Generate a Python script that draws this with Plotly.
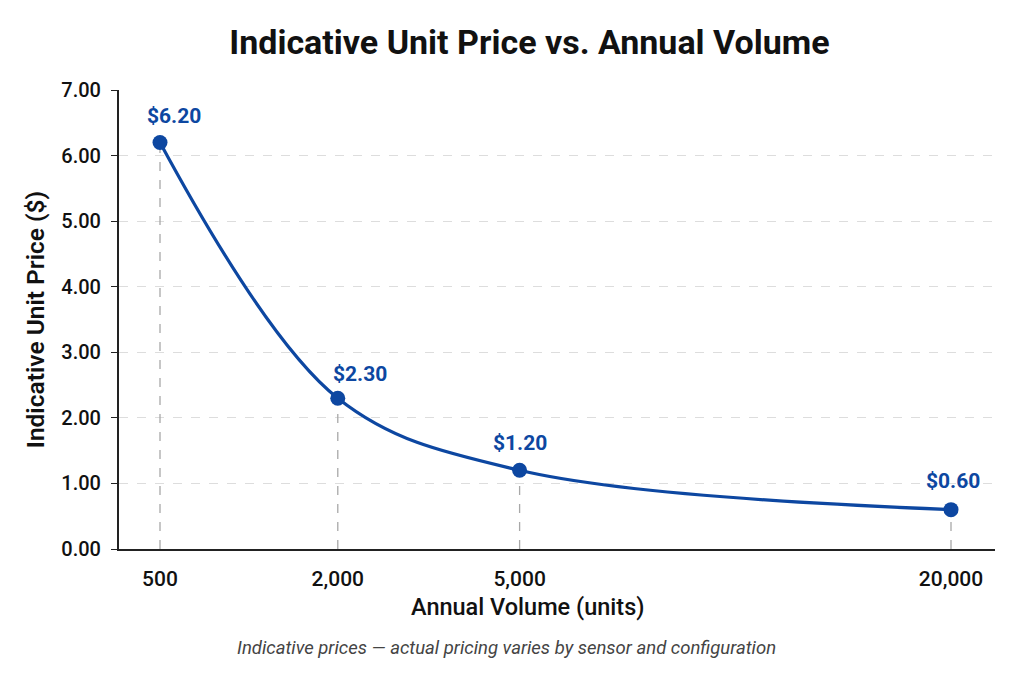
import plotly.graph_objects as go

volumes = [500, 2000, 5000, 20000]
volume_labels = ["500", "2,000", "5,000", "20,000"]
prices = [6.20, 2.30, 1.20, 0.60]
price_labels = ["$6.20", "$2.30", "$1.20", "$0.60"]
y_ticks = [0, 1, 2, 3, 4, 5, 6, 7]
y_tick_labels = ["0.00", "1.00", "2.00", "3.00", "4.00", "5.00", "6.00", "7.00"]

# compressive power scale for the volume axis
P = 0.385
def sx(v):
    return v ** P

xs = [sx(v) for v in volumes]
BLUE = "#0d47a1"
FONT = "Roboto"

fig = go.Figure()

# drop lines
for x, y in zip(xs, prices):
    fig.add_trace(go.Scatter(x=[x, x], y=[0, y], mode="lines",
                             line=dict(color="#a8a8a8", width=1.3, dash="dash"),
                             hoverinfo="skip", showlegend=False))

fig.add_trace(go.Scatter(x=xs, y=prices, mode="lines+markers",
                         line=dict(color=BLUE, width=3.2, shape="spline", smoothing=1.0),
                         marker=dict(color=BLUE, size=15),
                         showlegend=False))

label_xshift = [14, 22, 0, 2]
label_yshift = [26, 24, 27, 29]
for x, y, t, dx, dy in zip(xs, prices, price_labels, label_xshift, label_yshift):
    fig.add_annotation(x=x, y=y, text=t, showarrow=False, xshift=dx, yshift=dy,
                       font=dict(family=FONT, size=21, color=BLUE, weight="bold"))

# x-axis title
fig.add_annotation(text="Annual Volume (units)", xref="paper", yref="paper",
                   x=0.466, y=-0.1264, xanchor="center", yanchor="middle", showarrow=False,
                   font=dict(family=FONT, size=23.5, color="#111111", weight=500))

fig.add_annotation(text="Indicative prices \u2014 actual pricing varies by sensor and configuration",
                   xref="paper", yref="paper", x=0.4418, y=-0.2157, xanchor="center",
                   yanchor="middle", showarrow=False,
                   font=dict(family=FONT, size=18.5, color="#444444", style="italic"))

xmin = xs[0] - (xs[-1] - xs[0]) * 41 / 791
xmax = xs[-1] + (xs[-1] - xs[0]) * 44 / 791

fig.update_layout(
    width=1024, height=683,
    margin=dict(l=119, r=29, t=90, b=134),
    paper_bgcolor="white", plot_bgcolor="white",
    title=dict(text="Indicative Unit Price vs. Annual Volume", x=0.517, xanchor="center",
               y=0.9385, yanchor="middle",
               font=dict(family=FONT, size=34, color="#111111", weight="bold")),
    xaxis=dict(range=[xmin, xmax], tickvals=xs, ticktext=volume_labels,
               showgrid=False, zeroline=False, showline=True, linecolor="#222222", linewidth=2,
               ticks="", ticklabelstandoff=10,
               tickfont=dict(family=FONT, size=21, color="#111111", weight=500)),
    yaxis=dict(range=[0, 7], tickvals=y_ticks, ticktext=y_tick_labels,
               showgrid=True, gridcolor="#dddddd", griddash="dash", gridwidth=1,
               zeroline=False, showline=True, linecolor="#222222", linewidth=2,
               ticks="outside", ticklen=6, tickcolor="#222222", ticklabelstandoff=6,
               tickfont=dict(family=FONT, size=20, color="#111111", weight=500),
               title=dict(text="Indicative Unit Price ($)", standoff=10,
                          font=dict(family=FONT, size=24.5, color="#111111", weight=600))),
)

fig.write_html("out.html")
